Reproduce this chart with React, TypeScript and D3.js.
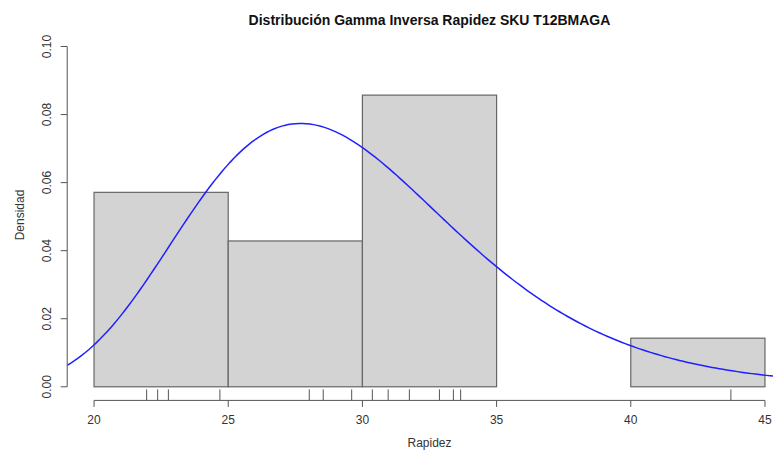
import React from "react";
import * as d3 from "d3";

// Observed values (rug marks)
const rapidez: number[] = [
  21.96, 22.37, 22.77, 24.69, 28.02, 28.54, 29.6, 30.37, 30.96, 31.75, 32.87,
  33.39, 33.66, 43.73,
];
const breaks: number[] = [20, 25, 30, 35, 40, 45];
const xTicks: number[] = [20, 25, 30, 35, 40, 45];
const yTicks: number[] = [0, 0.02, 0.04, 0.06, 0.08, 0.1];
// Fitted inverse-gamma parameters
const shape = 30;
const scale = 858.7;

const title = "Distribución Gamma Inversa Rapidez SKU T12BMAGA";
const xLabel = "Rapidez";
const yLabel = "Densidad";

function lgamma(z: number): number {
  const g = 7;
  const c = [
    0.99999999999980993, 676.5203681218851, -1259.1392167224028,
    771.32342877765313, -176.61502916214059, 12.507343278686905,
    -0.13857109526572012, 9.9843695780195716e-6, 1.5056327351493116e-7,
  ];
  z -= 1;
  let x = c[0];
  for (let i = 1; i < g + 2; i++) x += c[i] / (z + i);
  const t = z + g + 0.5;
  return 0.5 * Math.log(2 * Math.PI) + (z + 0.5) * Math.log(t) - t + Math.log(x);
}

function dinvgamma(x: number, a: number, b: number): number {
  return Math.exp(a * Math.log(b) - lgamma(a) - (a + 1) * Math.log(x) - b / x);
}

export default function App() {
  const W = 773;
  const H = 450;
  const x = d3.scaleLinear().domain([19, 46]).range([67.2, 791.8]);
  const y = d3.scaleLinear().domain([-0.004, 0.104]).range([400.4, 32.9]);

  const bins = d3
    .bin<number, number>()
    .domain([breaks[0], breaks[breaks.length - 1]])
    .thresholds(breaks.slice(1, -1))(rapidez);
  const n = rapidez.length;

  const curvePts = d3.range(0, 201).map((i) => {
    const xv = 19 + (27 * i) / 200;
    return [xv, dinvgamma(xv, shape, scale)] as [number, number];
  });
  const line = d3
    .line<[number, number]>()
    .x((d) => x(d[0]))
    .y((d) => y(d[1]));

  const axisColor = "#555";
  const textColor = "#333";
  const font = "'Liberation Sans', Arial, sans-serif";
  const xAxisY = 400.4;
  const yAxisX = 67.2;
  const rugLen = 11;

  return (
    <svg
      width={W}
      height={H}
      style={{ position: "absolute", left: 0, top: 0, background: "#fff" }}
      fontFamily={font}
    >
      <rect x={0} y={0} width={W} height={H} fill="#fff" />
      {/* bars */}
      {bins.map((b, i) => {
        const dens = b.length / (n * (b.x1! - b.x0!));
        return (
          <rect
            key={i}
            x={x(b.x0!)}
            y={y(dens)}
            width={x(b.x1!) - x(b.x0!)}
            height={y(0) - y(dens)}
            fill="#d3d3d3"
            stroke="#666"
            strokeWidth={1.2}
          />
        );
      })}
      {/* curve */}
      <defs>
        <clipPath id="plotClip">
          <rect x={yAxisX} y={0} width={W - yAxisX} height={xAxisY} />
        </clipPath>
      </defs>
      <path
        d={line(curvePts) || ""}
        fill="none"
        stroke="#2020ff"
        strokeWidth={1.5}
        clipPath="url(#plotClip)"
      />
      {/* rug */}
      {rapidez.map((v, i) => (
        <line
          key={i}
          x1={x(v)}
          x2={x(v)}
          y1={xAxisY}
          y2={xAxisY - rugLen}
          stroke={axisColor}
          strokeWidth={1}
        />
      ))}
      {/* x axis */}
      <line
        x1={x(xTicks[0])}
        x2={x(xTicks[xTicks.length - 1])}
        y1={xAxisY}
        y2={xAxisY}
        stroke={axisColor}
      />
      {xTicks.map((t) => (
        <g key={t}>
          <line x1={x(t)} x2={x(t)} y1={xAxisY} y2={xAxisY + 6.5} stroke={axisColor} />
          <text
            x={x(t)}
            y={423.5}
            textAnchor="middle"
            fontSize={12}
            fill={textColor}
          >
            {t}
          </text>
        </g>
      ))}
      {/* y axis */}
      <line
        x1={yAxisX}
        x2={yAxisX}
        y1={y(yTicks[0])}
        y2={y(yTicks[yTicks.length - 1])}
        stroke={axisColor}
      />
      {yTicks.map((t) => (
        <g key={t}>
          <line x1={yAxisX - 6.5} x2={yAxisX} y1={y(t)} y2={y(t)} stroke={axisColor} />
          <text
            transform={`translate(${51},${y(t)}) rotate(-90)`}
            textAnchor="middle"
            fontSize={12}
            fill={textColor}
          >
            {t.toFixed(2)}
          </text>
        </g>
      ))}
      {/* labels */}
      <text
        x={429.5}
        y={25}
        textAnchor="middle"
        fontSize={14}
        fontWeight="bold"
        fill="#111"
      >
        {title}
      </text>
      <text x={429.5} y={446.5} textAnchor="middle" fontSize={12} fill={textColor}>
        {xLabel}
      </text>
      <text
        transform={`translate(${24},${215}) rotate(-90)`}
        textAnchor="middle"
        fontSize={12}
        fill={textColor}
      >
        {yLabel}
      </text>
    </svg>
  );
}
